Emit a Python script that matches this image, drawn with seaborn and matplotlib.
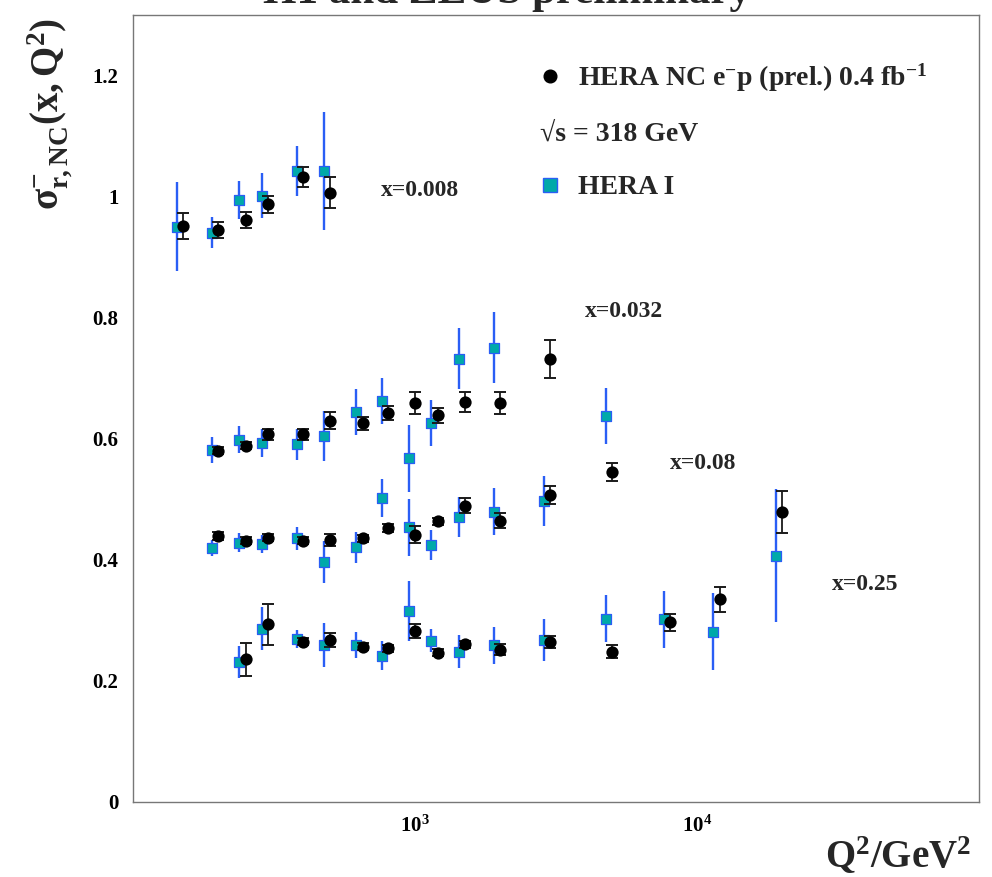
import numpy as np
import pandas as pd
import matplotlib
matplotlib.use("Agg")
import matplotlib.pyplot as plt
from matplotlib.lines import Line2D
from matplotlib.ticker import FixedLocator, LogLocator, NullFormatter, MultipleLocator, FuncFormatter
import seaborn as sns

# ---------------------------------------------------------------------------
# Reduced NC e-p cross section sigma_r(x, Q^2) in four x bins
# ---------------------------------------------------------------------------
x_bins = ["0.008", "0.032", "0.08", "0.25"]

# HERA NC e-p (prel.) 0.4 fb^-1
q2_x0008 = [150, 200, 250, 300, 400, 500]
sig_x0008 = [0.951, 0.944, 0.961, 0.987, 1.032, 1.006]
err_x0008 = [0.022, 0.013, 0.013, 0.014, 0.016, 0.026]

q2_x0032 = [200, 250, 300, 400, 500, 650, 800, 1000, 1200, 1500, 2000, 3000]
sig_x0032 = [0.580, 0.588, 0.607, 0.607, 0.629, 0.625, 0.642, 0.658, 0.638, 0.660, 0.658, 0.731]
err_x0032 = [0.006, 0.006, 0.009, 0.009, 0.014, 0.011, 0.012, 0.018, 0.013, 0.016, 0.018, 0.032]

q2_x008 = [200, 250, 300, 400, 500, 650, 800, 1000, 1200, 1500, 2000, 3000, 5000]
sig_x008 = [0.439, 0.431, 0.436, 0.431, 0.432, 0.435, 0.452, 0.441, 0.463, 0.489, 0.464, 0.507, 0.545]
err_x008 = [0.006, 0.006, 0.006, 0.006, 0.010, 0.006, 0.006, 0.014, 0.006, 0.012, 0.012, 0.015, 0.015]

q2_x025 = [250, 300, 400, 500, 650, 800, 1000, 1200, 1500, 2000, 3000, 5000, 8000, 12000, 20000]
sig_x025 = [0.235, 0.293, 0.264, 0.267, 0.256, 0.253, 0.282, 0.246, 0.260, 0.251, 0.264, 0.248,
            0.296, 0.334, 0.478]
err_x025 = [0.027, 0.034, 0.006, 0.011, 0.006, 0.006, 0.012, 0.006, 0.006, 0.009, 0.010, 0.011,
            0.014, 0.020, 0.035]

# HERA I
h1_q2_x0008 = [150, 200, 250, 300, 400, 500]
h1_sig_x0008 = [0.950, 0.940, 0.994, 1.001, 1.042, 1.042]
h1_err_x0008 = [0.074, 0.026, 0.031, 0.037, 0.041, 0.097]

h1_q2_x0032 = [200, 250, 300, 400, 500, 650, 800, 1000, 1200, 1500, 2000]
h1_sig_x0032 = [0.581, 0.598, 0.592, 0.590, 0.604, 0.644, 0.662, 0.567, 0.625, 0.732, 0.750]
h1_err_x0032 = [0.021, 0.022, 0.023, 0.026, 0.041, 0.038, 0.038, 0.056, 0.038, 0.050, 0.059]

h1_q2_x008 = [200, 250, 300, 400, 500, 650, 800, 1000, 1200, 1500, 2000, 3000, 5000]
h1_sig_x008 = [0.419, 0.428, 0.426, 0.435, 0.396, 0.420, 0.502, 0.453, 0.424, 0.470, 0.479,
               0.497, 0.637]
h1_err_x008 = [0.013, 0.015, 0.015, 0.019, 0.035, 0.026, 0.031, 0.047, 0.025, 0.033, 0.039,
               0.041, 0.047]

h1_q2_x025 = [250, 300, 400, 500, 650, 800, 1000, 1200, 1500, 2000, 3000, 5000, 8000, 12000, 20000]
h1_sig_x025 = [0.231, 0.286, 0.268, 0.259, 0.259, 0.241, 0.315, 0.266, 0.248, 0.258, 0.267,
               0.302, 0.301, 0.281, 0.406]
h1_err_x025 = [0.026, 0.035, 0.015, 0.036, 0.021, 0.024, 0.050, 0.019, 0.028, 0.031, 0.034,
               0.039, 0.047, 0.063, 0.110]

# (x-bin label, Q^2 at left edge of label, sigma at label baseline)
bin_labels = [("x=0.008", 755, 1.0), ("x=0.032", 4000, 0.8),
              ("x=0.08", 8000, 0.55), ("x=0.25", 30000, 0.35)]

NEW = "HERA NC"
OLD = "HERA I"


def frame(dataset, xb, q2, sig, err):
    return pd.DataFrame({"dataset": dataset, "xbin": xb, "Q2": q2, "sigma": sig, "err": err})


df = pd.concat([
    frame(NEW, "0.008", q2_x0008, sig_x0008, err_x0008),
    frame(NEW, "0.032", q2_x0032, sig_x0032, err_x0032),
    frame(NEW, "0.08", q2_x008, sig_x008, err_x008),
    frame(NEW, "0.25", q2_x025, sig_x025, err_x025),
    frame(OLD, "0.008", h1_q2_x0008, h1_sig_x0008, h1_err_x0008),
    frame(OLD, "0.032", h1_q2_x0032, h1_sig_x0032, h1_err_x0032),
    frame(OLD, "0.08", h1_q2_x008, h1_sig_x008, h1_err_x008),
    frame(OLD, "0.25", h1_q2_x025, h1_sig_x025, h1_err_x025),
], ignore_index=True)

# HERA I points are drawn slightly to the left of the nominal Q^2 for visibility
df["Q2_plot"] = df["Q2"] * np.where(df["dataset"] == OLD, 0.95, 1.0)

# ---------------------------------------------------------------------------
# Style
# ---------------------------------------------------------------------------
sns.set_theme(style="white")
plt.rcParams.update({
    "font.family": ["Liberation Serif", "DejaVu Serif"],
    "font.weight": "bold",
    "axes.labelweight": "bold",
    "mathtext.fontset": "custom",
    "mathtext.rm": "Liberation Serif:bold",
    "mathtext.it": "Liberation Serif:bold",
    "mathtext.bf": "Liberation Serif:bold",
    "mathtext.default": "rm",
    "axes.edgecolor": "#777777",
    "axes.linewidth": 1.0,
})

TEAL = "#00a9a9"
BLUE = "#2a5ef5"

fig = plt.figure(figsize=(9.92, 8.77), dpi=100)
ax = fig.add_axes([0.1344, 0.0859, 0.8528, 0.8974])
ax.set_xscale("log")

old = df[df["dataset"] == OLD]
new = df[df["dataset"] == NEW]

# HERA I: blue error lines, teal squares
ax.errorbar(old["Q2_plot"], old["sigma"], yerr=old["err"], fmt="none",
            ecolor=BLUE, elinewidth=1.7, capsize=0, zorder=2)
sns.scatterplot(data=old, x="Q2_plot", y="sigma", marker="s", s=42, color=TEAL,
                edgecolor=BLUE, linewidth=0.9, legend=False, ax=ax, zorder=3)

# New combined data: black circles with capped error bars
ax.errorbar(new["Q2_plot"], new["sigma"], yerr=new["err"], fmt="none",
            ecolor="#1a1a1a", elinewidth=1.3, capsize=4.2, capthick=1.4, zorder=4)
sns.scatterplot(data=new, x="Q2_plot", y="sigma", marker="o", s=78, color="black",
                edgecolor="black", linewidth=0, legend=False, ax=ax, zorder=5)

# ---------------------------------------------------------------------------
# Axes
# ---------------------------------------------------------------------------
ax.set_xlim(100, 1e5)
ax.set_ylim(0, 1.3)

ax.xaxis.set_major_locator(FixedLocator([1e3, 1e4]))
ax.set_xticklabels([r"$10^{3}$", r"$10^{4}$"])
ax.xaxis.set_minor_locator(LogLocator(base=10, subs=np.arange(2, 10)))
ax.xaxis.set_minor_formatter(NullFormatter())

ax.yaxis.set_major_locator(MultipleLocator(0.2))
ax.yaxis.set_minor_locator(MultipleLocator(0.05))
ax.yaxis.set_major_formatter(FuncFormatter(lambda v, p: f"{v:g}"))

ax.tick_params(which="both", direction="in", top=False, right=False,
               color="#666666", width=0.8, labelcolor="black")
ax.tick_params(which="major", length=5.8)
ax.tick_params(which="minor", length=2.9)
ax.tick_params(axis="y", which="major", pad=10.8, labelsize=15)
ax.tick_params(axis="x", which="major", pad=10, labelsize=15)
for lab in ax.get_xticklabels() + ax.get_yticklabels():
    lab.set_fontweight("bold")

for sp in ax.spines.values():
    sp.set_visible(True)
    sp.set_color("#777777")

ax.set_ylabel(r"$\sigma^{-}_{r,NC}(x,Q^{2})$", fontsize=28, loc="top")
ax.yaxis.set_label_coords(-0.070, 0.996)
ax.set_xlabel(r"Q$^{2}$/GeV$^{2}$", fontsize=28, fontweight="bold", loc="right")
ax.xaxis.set_label_coords(0.990, -0.043)

# x-bin annotations
for txt, qx, sy in bin_labels:
    ax.text(qx, sy, txt, fontsize=17, fontweight="bold", va="baseline", ha="left")

# Legend
handles = [
    Line2D([], [], marker="o", ls="none", color="black", markersize=9.1,
           label=r"HERA NC e$^{-}$p (prel.) 0.4 fb$^{-1}$"),
    Line2D([], [], marker="s", ls="none", mfc=TEAL, mec=BLUE, mew=1.0, markersize=9.4,
           label="HERA I"),
]
ax.legend(handles=handles, loc="upper left", bbox_to_anchor=(0.4796, 0.9400),
          frameon=False, handlelength=0.8, handletextpad=0.6, labelspacing=2.9,
          borderpad=0, borderaxespad=0, prop={"size": 20, "weight": "bold"})
ax.text(0.4807, 0.8395, "\u221as = 318 GeV", transform=ax.transAxes, fontsize=20,
        fontweight="bold", va="baseline", ha="left")

# Title (sits at the top edge of the canvas)
fig.text(0.511, 1 - 2.5 / 877, "H1 and ZEUS preliminary", ha="center", va="baseline",
         fontsize=31, fontweight="bold")

fig.savefig("out.png", dpi=100)
